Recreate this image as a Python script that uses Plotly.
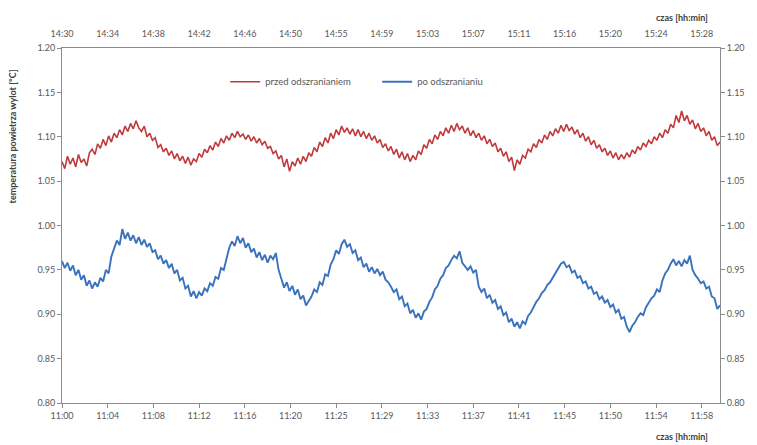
import plotly.graph_objects as go

# Elapsed time in minutes from the start of each recording, 15 s sampling
step_min = 0.25

# Outlet air temperature before defrosting [°C] (recorded 14:30 onward)
przed = [
    1.072, 1.064, 1.078, 1.069, 1.076, 1.066, 1.080, 1.071, 1.075, 1.067, 1.082, 1.086, 1.080, 1.092, 1.087, 1.097, 1.090, 1.101, 1.094, 1.104,
    1.099, 1.108, 1.102, 1.112, 1.106, 1.115, 1.109, 1.118, 1.110, 1.106, 1.112, 1.100, 1.104, 1.096, 1.099, 1.088, 1.091, 1.083, 1.087, 1.079,
    1.084, 1.075, 1.081, 1.073, 1.078, 1.070, 1.077, 1.068, 1.075, 1.072, 1.081, 1.077, 1.086, 1.082, 1.090, 1.085, 1.094, 1.089, 1.098, 1.093,
    1.101, 1.096, 1.104, 1.099, 1.106, 1.100, 1.103, 1.097, 1.102, 1.095, 1.100, 1.093, 1.098, 1.091, 1.095, 1.087, 1.089, 1.081, 1.084, 1.075,
    1.079, 1.066, 1.075, 1.061, 1.072, 1.067, 1.076, 1.069, 1.078, 1.072, 1.082, 1.078, 1.088, 1.083, 1.094, 1.089, 1.099, 1.093, 1.104, 1.098,
    1.108, 1.102, 1.112, 1.105, 1.110, 1.103, 1.109, 1.101, 1.108, 1.100, 1.106, 1.098, 1.104, 1.096, 1.101, 1.093, 1.097, 1.088, 1.092, 1.084,
    1.089, 1.080, 1.086, 1.076, 1.083, 1.074, 1.081, 1.072, 1.079, 1.074, 1.084, 1.080, 1.091, 1.087, 1.097, 1.092, 1.102, 1.097, 1.106, 1.101,
    1.110, 1.104, 1.113, 1.106, 1.115, 1.108, 1.112, 1.104, 1.110, 1.101, 1.107, 1.099, 1.104, 1.096, 1.101, 1.092, 1.097, 1.089, 1.093, 1.083,
    1.087, 1.078, 1.083, 1.072, 1.077, 1.062, 1.074, 1.069, 1.079, 1.076, 1.086, 1.083, 1.092, 1.088, 1.097, 1.093, 1.102, 1.097, 1.106, 1.101,
    1.109, 1.104, 1.113, 1.106, 1.114, 1.107, 1.111, 1.103, 1.108, 1.099, 1.104, 1.095, 1.100, 1.091, 1.096, 1.087, 1.091, 1.083, 1.087, 1.079,
    1.084, 1.076, 1.082, 1.074, 1.080, 1.075, 1.082, 1.077, 1.085, 1.081, 1.089, 1.085, 1.093, 1.089, 1.096, 1.092, 1.100, 1.096, 1.104, 1.099,
    1.108, 1.104, 1.114, 1.110, 1.124, 1.116, 1.129, 1.118, 1.124, 1.114, 1.119, 1.109, 1.115, 1.106, 1.110, 1.101, 1.106, 1.096, 1.100, 1.090,
    1.094,
]

# Outlet air temperature after defrosting [°C] (recorded 11:00 onward)
po = [
    0.960, 0.952, 0.958, 0.949, 0.955, 0.944, 0.950, 0.939, 0.944, 0.932, 0.938, 0.929, 0.936, 0.931, 0.941, 0.937, 0.950, 0.946, 0.965, 0.975,
    0.983, 0.978, 0.996, 0.985, 0.992, 0.983, 0.989, 0.980, 0.987, 0.978, 0.984, 0.976, 0.980, 0.970, 0.972, 0.962, 0.966, 0.957, 0.961, 0.952,
    0.957, 0.946, 0.950, 0.938, 0.941, 0.929, 0.932, 0.920, 0.926, 0.918, 0.925, 0.921, 0.929, 0.926, 0.935, 0.932, 0.942, 0.940, 0.952, 0.950,
    0.964, 0.975, 0.982, 0.977, 0.988, 0.980, 0.986, 0.975, 0.980, 0.970, 0.974, 0.964, 0.970, 0.961, 0.967, 0.958, 0.966, 0.962, 0.969, 0.950,
    0.940, 0.930, 0.936, 0.926, 0.932, 0.922, 0.928, 0.917, 0.921, 0.910, 0.915, 0.920, 0.928, 0.925, 0.936, 0.933, 0.945, 0.943, 0.956, 0.962,
    0.972, 0.968, 0.979, 0.984, 0.976, 0.979, 0.969, 0.972, 0.961, 0.964, 0.953, 0.957, 0.948, 0.953, 0.946, 0.951, 0.944, 0.948, 0.939, 0.936,
    0.931, 0.925, 0.928, 0.917, 0.920, 0.909, 0.912, 0.901, 0.905, 0.896, 0.901, 0.894, 0.903, 0.906, 0.914, 0.919, 0.928, 0.932, 0.940, 0.944,
    0.952, 0.955, 0.961, 0.966, 0.963, 0.971, 0.958, 0.954, 0.950, 0.954, 0.947, 0.950, 0.931, 0.925, 0.929, 0.918, 0.922, 0.913, 0.916, 0.906,
    0.909, 0.899, 0.902, 0.891, 0.895, 0.886, 0.891, 0.884, 0.892, 0.889, 0.898, 0.902, 0.909, 0.914, 0.918, 0.924, 0.927, 0.933, 0.936, 0.941,
    0.947, 0.952, 0.957, 0.959, 0.953, 0.955, 0.947, 0.949, 0.941, 0.943, 0.935, 0.937, 0.929, 0.931, 0.923, 0.925, 0.917, 0.920, 0.913, 0.916,
    0.908, 0.911, 0.902, 0.905, 0.895, 0.897, 0.886, 0.880, 0.887, 0.891, 0.897, 0.901, 0.899, 0.908, 0.913, 0.918, 0.921, 0.928, 0.925, 0.938,
    0.946, 0.950, 0.957, 0.962, 0.955, 0.960, 0.954, 0.961, 0.957, 0.966, 0.950, 0.944, 0.940, 0.935, 0.937, 0.929, 0.931, 0.920, 0.918, 0.906,
    0.910,
]

# Time axis labels (one label every 250 s)
tick_interval_min = 250 / 60
labels_bottom = ["11:00", "11:04", "11:08", "11:12", "11:16", "11:20", "11:25", "11:29",
                 "11:33", "11:37", "11:41", "11:45", "11:50", "11:54", "11:58"]
labels_top = ["14:30", "14:34", "14:38", "14:42", "14:46", "14:50", "14:55", "14:59",
              "15:03", "15:07", "15:11", "15:16", "15:20", "15:24", "15:28"]

t_przed = [i * step_min for i in range(len(przed))]
t_po = [i * step_min for i in range(len(po))]
tick_pos = [i * tick_interval_min for i in range(len(labels_bottom))]

RED = "#c0393b"
BLUE = "#3b72bd"
TXT = "#595959"
AXIS = "#8c8c8c"
FONT = "Lato"

fig = go.Figure()
fig.add_trace(go.Scatter(x=t_przed, y=przed, mode="lines", name="przed odszranianiem",
                         line=dict(color=RED, width=1.6), xaxis="x2", yaxis="y2"))
fig.add_trace(go.Scatter(x=t_po, y=po, mode="lines", name="po odszranianiu",
                         line=dict(color=BLUE, width=1.9), xaxis="x", yaxis="y"))

common_x = dict(range=[0, 60], showgrid=False, zeroline=False, tickvals=tick_pos,
                showline=True, linecolor=AXIS, linewidth=1,
                tickfont=dict(family=FONT, size=9, color=TXT))
common_y = dict(range=[0.80, 1.20], dtick=0.05, tickformat=".2f", showgrid=False,
                zeroline=False, showline=True, linecolor=AXIS, linewidth=1,
                ticks="outside", ticklen=4, tickcolor=AXIS,
                tickfont=dict(family=FONT, size=9, color=TXT))

fig.update_layout(
    width=757, height=445,
    margin=dict(l=62, r=33, t=48, b=42),
    paper_bgcolor="white", plot_bgcolor="white",
    font=dict(family=FONT, size=9, color=TXT),
    xaxis=dict(**common_x, ticktext=labels_bottom, ticks="outside", ticklen=4,
               tickcolor=AXIS, side="bottom", anchor="y"),
    xaxis2=dict(**common_x, ticktext=labels_top, ticks="", side="top",
                overlaying="x", anchor="y2", ticklabelstandoff=6),
    yaxis=dict(**common_y, side="left", anchor="x"),
    yaxis2=dict(**common_y, side="right", overlaying="y", anchor="x2"),
    legend=dict(orientation="h", x=0.248, y=0.905, xanchor="left", yanchor="middle",
                bgcolor="rgba(0,0,0,0)", itemwidth=30, entrywidth=107,
                font=dict(family=FONT, size=9.5, color=TXT)),
    showlegend=True,
)

fig.add_annotation(text="<b>temperatura powietrza wylot [°C]</b>", textangle=-90,
                   xref="paper", yref="paper", x=-0.075, y=0.75,
                   xanchor="center", yanchor="middle", showarrow=False,
                   font=dict(family=FONT, size=9, color="#404040"))
fig.add_annotation(text="<b>czas [hh:min]</b>", xref="paper", yref="paper",
                   x=0.985, y=1.085, xanchor="right", yanchor="middle", showarrow=False,
                   font=dict(family=FONT, size=9, color="#404040"))
fig.add_annotation(text="<b>czas [hh:min]</b>", xref="paper", yref="paper",
                   x=0.985, y=-0.095, xanchor="right", yanchor="middle", showarrow=False,
                   font=dict(family=FONT, size=9, color="#404040"))

fig.write_html("out.html")
